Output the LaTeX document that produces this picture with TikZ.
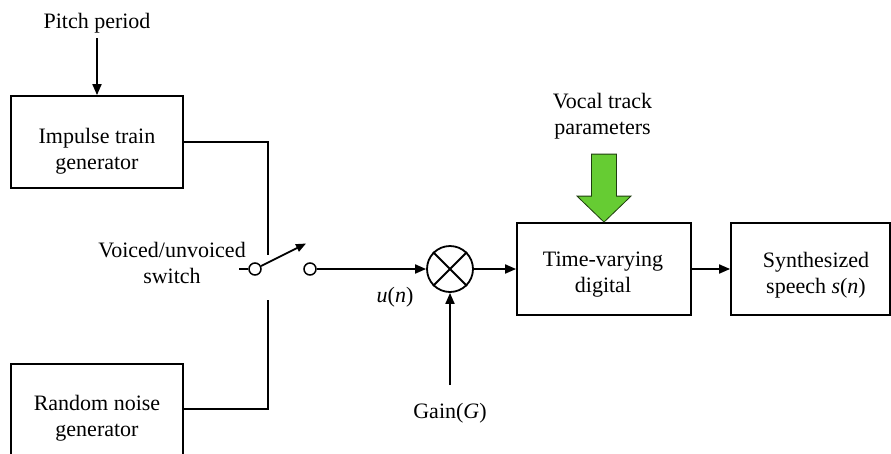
\documentclass[tikz,border=0pt]{standalone}
\usepackage{fontspec}
\setmainfont{Liberation Serif}
\usetikzlibrary{arrows.meta}
\definecolor{vgreen}{HTML}{66CC33}
\begin{document}
\begin{tikzpicture}[x=1pt,y=-1pt,line width=1.8pt,
  >={Triangle[length=11pt,width=9pt]},
  box/.style={draw,rectangle,inner sep=0pt},
  lbl/.style={align=center,inner sep=0pt,font=\fontsize{22}{26}\selectfont},
  port/.style={draw,circle,inner sep=0pt,minimum size=12pt,line width=1.5pt}]
\useasboundingbox (0,0) rectangle (891,453);
\clip (0,0) rectangle (891,453);
% boxes
\node[box,minimum width=172pt,minimum height=92pt] (imp) at (97,142) {};
\node[lbl] (impt) at (97,151) {Impulse train\\generator};
\node[box,minimum width=172pt,minimum height=106pt] (rnd) at (97,417) {};
\node[lbl] (rndt) at (97,418) {Random noise\\generator};
\node[box,minimum width=174pt,minimum height=92pt] (tv) at (604,269) {};
\node[lbl] (tvt) at (603,275) {Time-varying\\digital};
\node[box,minimum width=159pt,minimum height=92pt] (syn) at (810.5,269) {};
\node[lbl] (synt) at (816,275) {Synthesized\\speech \textit{s}(\textit{n})};
% labels
\node[lbl] (pitch) at (97,23) {Pitch period};
\node[lbl] (vuv) at (172,263) {Voiced/unvoiced\\switch};
\node[lbl] (vtp) at (602.5,116) {Vocal track\\parameters};
\node[lbl] (gain) at (450,413) {Gain(\textit{G})};
\node[lbl] (un) at (395,297) {\textit{u}(\textit{n})};
% pitch arrow
\coordinate (pitchs) at (97,38);
\draw[->] (pitchs) -- (imp.north);
% switch
\node[port] (swl) at (255,269) {};
\node[port] (swr) at (310,269) {};
\coordinate (lead) at (239,269);
\draw (lead) -- (swl.west);
\coordinate (armtip) at (306,243.5);
\draw[-{Triangle[length=10pt,width=8pt]}] (swl.26.57) -- (armtip);
\coordinate (upend) at (268,255);
\coordinate (loend) at (268,300);
\draw (imp.east) -| (upend);
\draw (rnd.east |- 0,409) -| (loend);
% multiplier
\node[draw,circle,inner sep=0pt,minimum size=46pt] (mul) at (450,269) {};
\draw (mul.north east) -- (mul.south west);
\draw (mul.north west) -- (mul.south east);
\draw[->] (swr.east) -- (mul.west);
\coordinate (gains) at (450,385);
\draw[->] (gains) -- (mul.south);
\draw[->] (mul.east) -- (tv.west);
\draw[->] (tv.east) -- (syn.west);
% green arrow
\draw[line width=0.8pt,fill=vgreen,draw=black!70!vgreen]
  ([xshift=-12.5pt,yshift=68pt]tv.north) -- ([xshift=12.5pt,yshift=68pt]tv.north)
  -- ([xshift=12.5pt,yshift=26pt]tv.north) -- ([xshift=27pt,yshift=26pt]tv.north)
  -- (tv.north) -- ([xshift=-27pt,yshift=26pt]tv.north)
  -- ([xshift=-12.5pt,yshift=26pt]tv.north) -- cycle;
\end{tikzpicture}
\end{document}
